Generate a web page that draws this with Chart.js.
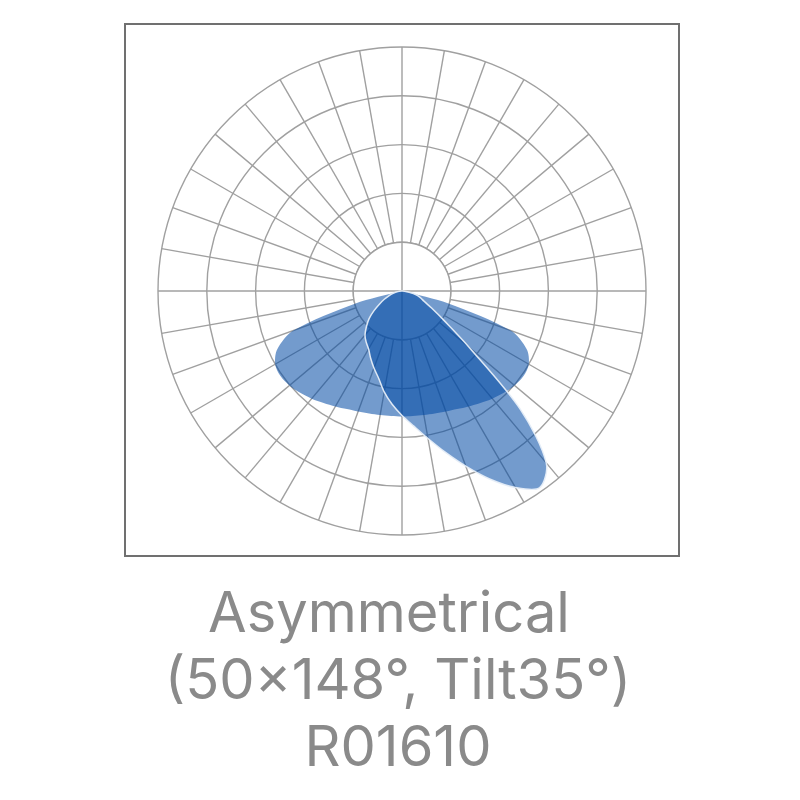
<!DOCTYPE html>
<html>
<head>
<meta charset="utf-8">
<script src="https://cdn.jsdelivr.net/npm/chart.js@4.4.1/dist/chart.umd.min.js"></script>
<style>
  html, body { margin: 0; padding: 0; background: #fff; }
  #frame {
    position: absolute; left: 124px; top: 23px; width: 556px; height: 534px;
    box-sizing: border-box; border: 2px solid #707070;
  }
  #polar { position: absolute; left: 152px; top: 41px; }
  #caption {
    position: absolute; left: 0; width: 796px; top: 579px;
    text-align: center; color: #8a8a8a;
    font-family: Inter, "Open Sans", sans-serif; font-size: 56px; line-height: 67px;
  }
  #caption .l1 { padding-right: 18px; }
</style>
</head>
<body>
<div id="frame"></div>
<canvas id="polar" width="500" height="500"></canvas>
<div id="caption">
  <div class="l1">Asymmetrical</div>
  <div>(50×148°, Tilt35°)</div>
  <div>R01610</div>
</div>
<script>
// angle of each spoke, degrees clockwise from nadir (0 = straight down, 90 = left)
const angles = [
  0, 5, 10, 15, 20, 25, 30, 35, 40, 45, 50, 55, 60, 65, 70, 75, 80, 85,
  90, 95, 100, 105, 110, 115, 120, 125, 130, 135, 140, 145, 150, 155, 160, 165, 170, 175,
  180, 185, 190, 195, 200, 205, 210, 215, 220, 225, 230, 235, 240, 245, 250, 255, 260, 265,
  270, 275, 280, 285, 290, 295, 300, 305, 310, 315, 320, 325, 330, 335, 340, 345, 350, 355
];

// wide symmetric beam (148 deg)
const wideBeam = [
  2.57, 2.57, 2.58, 2.60, 2.63, 2.67, 2.73, 2.80, 2.88, 2.95, 3.01, 3.04, 3.00, 2.82, 2.37, 1.00, 0, 0,
  0, 0, 0, 0, 0, 0, 0, 0, 0, 0, 0, 0, 0, 0, 0, 0, 0, 0,
  0, 0, 0, 0, 0, 0, 0, 0, 0, 0, 0, 0, 0, 0, 0, 0, 0, 0,
  0, 0, 0, 1.00, 2.37, 2.82, 3.00, 3.04, 3.01, 2.95, 2.88, 2.80, 2.73, 2.67, 2.63, 2.60, 2.58, 2.57
];

// narrow beam (50 deg), tilted 35 deg to the right
const tiltBeam = [
  2.55, 2.33, 2.10, 1.85, 1.68, 1.52, 1.37, 1.28, 1.18, 1.03, 0.88, 0.70, 0.53, 0.40, 0.28, 0.20, 0.12, 0.05,
  0, 0, 0, 0, 0, 0, 0, 0, 0, 0, 0, 0, 0, 0, 0, 0, 0, 0,
  0, 0, 0, 0, 0, 0, 0, 0, 0, 0, 0, 0, 0, 0, 0, 0, 0, 0,
  0, 0.05, 0.15, 0.30, 0.40, 0.50, 0.70, 1.05, 1.80, 3.43, 4.60, 4.92, 4.65, 4.25, 3.82, 3.42, 3.07, 2.78
];

const ringSteps = [1, 2, 3, 4, 5];

const gridColor = '#a0a0a0';
const beamFill = 'rgba(0, 73, 164, 0.55)';

// clears the centre disc and puts back the cross and the first ring
const hubPlugin = {
  id: 'hub',
  beforeDatasetsDraw(chart) {
    const r = chart.scales.r;
    const ctx = chart.ctx;
    const cx = r.xCenter, cy = r.yCenter;
    const rad = r.getDistanceFromCenterForValue(ringSteps[0]);
    ctx.save();
    ctx.beginPath();
    ctx.arc(cx, cy, rad, 0, Math.PI * 2);
    ctx.fillStyle = '#fff';
    ctx.fill();
    ctx.strokeStyle = gridColor;
    ctx.lineWidth = 1.4;
    ctx.stroke();
    ctx.beginPath();
    ctx.moveTo(cx - rad, cy);
    ctx.lineTo(cx + rad, cy);
    ctx.moveTo(cx, cy - rad);
    ctx.lineTo(cx, cy + rad);
    ctx.stroke();
    ctx.restore();
  }
};

new Chart(document.getElementById('polar'), {
  type: 'radar',
  data: {
    labels: angles,
    datasets: [
      {
        label: 'Tilt 35°',
        data: tiltBeam,
        backgroundColor: beamFill,
        borderColor: 'rgba(230, 238, 248, 0.95)',
        borderWidth: 1.5,
        fill: true,
        tension: 0.3,
        pointRadius: 0
      },
      {
        label: '148°',
        data: wideBeam,
        backgroundColor: beamFill,
        borderWidth: 0,
        fill: true,
        tension: 0.3,
        pointRadius: 0
      }
    ]
  },
  options: {
    responsive: false,
    animation: false,
    layout: { padding: 6 },
    plugins: {
      legend: { display: false },
      tooltip: { enabled: false }
    },
    scales: {
      r: {
        min: 0,
        max: ringSteps[ringSteps.length - 1],
        startAngle: 180,
        ticks: { display: false, stepSize: 1 },
        pointLabels: { display: false },
        grid: { circular: true, color: gridColor, lineWidth: 1.4 },
        angleLines: {
          color: (ctx) => (ctx.index % 2 === 0 ? gridColor : 'transparent'),
          lineWidth: 1.4
        }
      }
    }
  },
  plugins: [hubPlugin]
});
</script>
</body>
</html>
